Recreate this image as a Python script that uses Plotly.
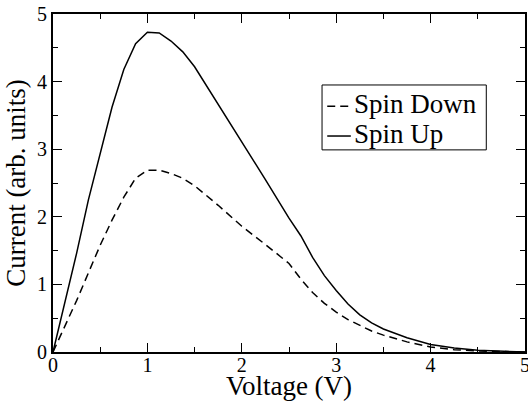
import plotly.graph_objects as go

voltage = [0, 0.125, 0.25, 0.375, 0.5, 0.625, 0.75, 0.875, 1.0, 1.125, 1.25, 1.375,
           1.5, 1.75, 2.0, 2.25, 2.5, 2.625, 2.75, 2.875, 3.0, 3.125, 3.25, 3.375,
           3.5, 3.75, 4.0, 4.25, 4.5, 4.75, 5.0]
spin_up = [0, 0.73, 1.46, 2.25, 2.92, 3.62, 4.18, 4.56, 4.73, 4.72, 4.60, 4.44,
           4.22, 3.67, 3.11, 2.55, 1.98, 1.72, 1.40, 1.13, 0.91, 0.71, 0.55, 0.43,
           0.34, 0.21, 0.11, 0.06, 0.025, 0.008, 0.0]
spin_down = [0, 0.38, 0.76, 1.17, 1.58, 1.95, 2.29, 2.57, 2.69, 2.69, 2.64, 2.57,
             2.46, 2.17, 1.86, 1.59, 1.31, 1.08, 0.88, 0.72, 0.59, 0.48, 0.39, 0.31,
             0.25, 0.15, 0.074, 0.035, 0.015, 0.005, 0.0]
series_names = ["Spin Down", "Spin Up"]

FONT = "Liberation Serif"
DASH = "8px,5px"

fig = go.Figure()
fig.add_trace(go.Scatter(x=voltage, y=spin_down, mode="lines", name=series_names[0],
                         showlegend=False,
                         line=dict(color="black", width=1.5, dash=DASH)))
fig.add_trace(go.Scatter(x=voltage, y=spin_up, mode="lines", name=series_names[1],
                         showlegend=False,
                         line=dict(color="black", width=1.5)))


def axis_style(title_text, standoff, label_standoff):
    return dict(
        range=[0, 5], showline=True, linecolor="black", linewidth=2, mirror="allticks",
        ticks="inside", ticklen=9, tickwidth=1.2, tickcolor="black", dtick=1, tick0=0,
        showgrid=False, zeroline=False, automargin=False,
        ticklabeloverflow="allow", ticklabelstandoff=label_standoff,
        tickfont=dict(family=FONT, size=20, color="black"),
        minor=dict(ticks="inside", ticklen=5, dtick=0.5, tick0=0, tickcolor="black",
                   tickwidth=1.2, showgrid=False),
        title=dict(text=title_text, standoff=standoff,
                   font=dict(family=FONT, size=27, color="black")),
    )


# hand-drawn legend box (paper coordinates of the plot area)
fig.add_shape(type="rect", xref="paper", yref="paper", x0=0.570, x1=0.918,
              y0=0.598, y1=0.790, line=dict(color="black", width=1),
              fillcolor="white", layer="above")
legend_rows_y = [0.733, 0.645]
legend_dash = [DASH, "solid"]
for name, ry, dsh in zip(series_names, legend_rows_y, legend_dash):
    fig.add_shape(type="line", xref="paper", yref="paper", x0=0.581, x1=0.631,
                  y0=ry - 0.006, y1=ry - 0.006, line=dict(color="black", width=1.5, dash=dsh))
    fig.add_annotation(xref="paper", yref="paper", x=0.634, y=ry, xanchor="left",
                       yanchor="middle", showarrow=False, text=name,
                       font=dict(family=FONT, size=27, color="black"))

fig.update_layout(
    template="none",
    width=528, height=401,
    margin=dict(l=53, r=3, t=14, b=49),
    paper_bgcolor="white", plot_bgcolor="white",
    font=dict(family=FONT, size=20, color="black"),
    showlegend=False,
    xaxis=axis_style("Voltage (V)", 1, -6),
    yaxis=axis_style("Current (arb. units)", 4, 0),
)

fig.write_html("out.html")
